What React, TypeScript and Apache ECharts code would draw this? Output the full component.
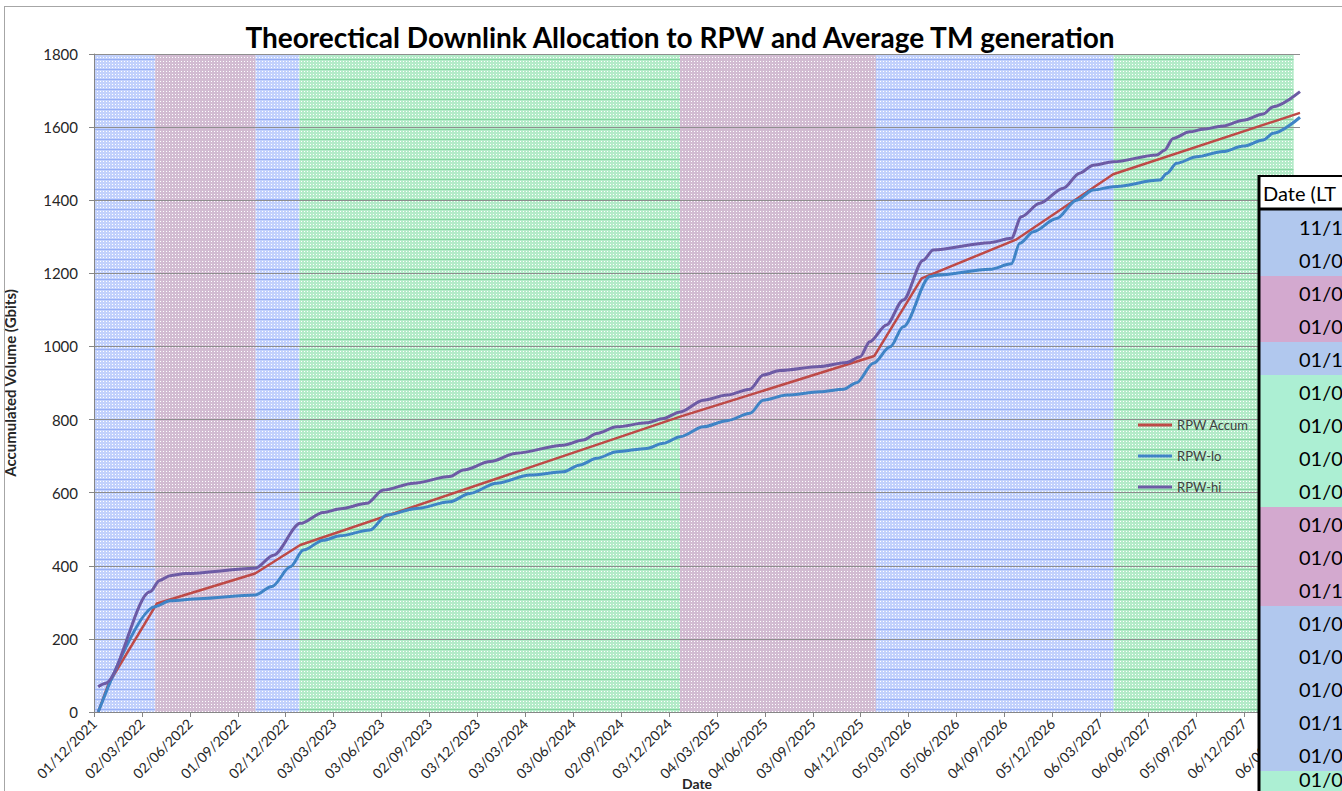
import React, { useEffect, useRef } from 'react';
import * as echarts from 'echarts';

// ---------- data ----------
const xTickLabels = [
  '01/12/2021', '02/03/2022', '02/06/2022', '01/09/2022', '02/12/2022', '03/03/2023',
  '03/06/2023', '02/09/2023', '03/12/2023', '03/03/2024', '03/06/2024', '02/09/2024',
  '03/12/2024', '04/03/2025', '04/06/2025', '03/09/2025', '04/12/2025', '05/03/2026',
  '05/06/2026', '04/09/2026', '05/12/2026', '06/03/2027', '06/06/2027', '05/09/2027',
  '06/12/2027', '06/03/2028',
];
const TICK_STEP = 91.3125; // days between labelled ticks
const X_MAX = 2298; // days after 01/12/2021 at the right edge of the plot

// days after 01/12/2021
const accumDays = [8, 28, 120, 307, 393, 1117, 1487, 1577, 1758, 1942, 2298];
const accumValues = [0, 78, 297, 379, 457, 808, 974, 1186, 1293, 1471, 1639];

const loDays = [8, 116, 145, 200, 307, 339, 374, 399, 437, 469, 526, 558, 615, 678, 716, 767, 831, 894, 926, 958, 996, 1053, 1085, 1117, 1161, 1206, 1250, 1275, 1320, 1383, 1428, 1453, 1485, 1517, 1542, 1593, 1605, 1707, 1748, 1764, 1790, 1834, 1872, 1904, 1942, 2031, 2044, 2063, 2101, 2151, 2190, 2228, 2247, 2298];
const loValues = [0, 288, 304, 310, 320, 343, 397, 443, 470, 482, 498, 539, 557, 575, 598, 626, 648, 657, 676, 694, 712, 721, 735, 753, 780, 797, 817, 853, 867, 876, 883, 901, 954, 999, 1054, 1191, 1195, 1211, 1226, 1282, 1314, 1350, 1400, 1428, 1437, 1455, 1473, 1501, 1519, 1533, 1548, 1565, 1583, 1627];

const hiDays = [8, 21, 107, 125, 145, 175, 307, 342, 393, 437, 470, 520, 551, 609, 678, 704, 755, 805, 894, 932, 958, 996, 1053, 1085, 1117, 1161, 1206, 1250, 1275, 1307, 1383, 1434, 1460, 1478, 1510, 1542, 1580, 1599, 1707, 1748, 1767, 1802, 1847, 1878, 1904, 1942, 2025, 2040, 2056, 2088, 2113, 2151, 2190, 2228, 2247, 2298];
const hiValues = [69, 78, 329, 360, 373, 379, 393, 429, 516, 546, 556, 571, 607, 626, 644, 662, 685, 708, 730, 744, 762, 780, 791, 803, 821, 853, 867, 883, 922, 934, 945, 956, 972, 1013, 1059, 1127, 1236, 1264, 1284, 1296, 1355, 1392, 1433, 1474, 1496, 1505, 1524, 1537, 1569, 1587, 1594, 1603, 1619, 1636, 1656, 1697];

// mission phase bands (days)
const bandStarts = [0, 116.6, 308, 391.4, 1116.6, 1490, 1943];
const bandEnds = [116.6, 308, 391.4, 1116.6, 1490, 1943, 2286];
const bandPhases = ['blue', 'purple', 'blue', 'green', 'purple', 'blue', 'green'];

// overlapping table (cut off by the picture's edge)
const tableHeader = 'Date (LT';
const tableRows = ['11/1', '01/0', '01/0', '01/0', '01/1', '01/0', '01/0', '01/0', '01/0', '01/0', '01/0', '01/1', '01/0', '01/0', '01/0', '01/1', '01/0', '01/0'];
const tableRowPhases = ['blue', 'blue', 'purple', 'purple', 'blue', 'green', 'green', 'green', 'green', 'purple', 'purple', 'purple', 'blue', 'blue', 'blue', 'blue', 'blue', 'green'];

const seriesNames = ['RPW Accum', 'RPW-lo', 'RPW-hi'];
const seriesColors = ['#be4a47', '#3f84c6', '#6d5ba5'];

// ---------- styling helpers ----------
const FONT = 'Lato, "Open Sans", sans-serif';
const tableColors: Record<string, string> = { blue: '#b1c8ee', purple: '#d3a9cf', green: '#acefd3' };

function makePattern(base: string, dark: string | null) {
  const c = document.createElement('canvas');
  c.width = 3;
  c.height = 10;
  const ctx = c.getContext('2d')!;
  ctx.fillStyle = base;
  ctx.fillRect(0, 0, 3, 10);
  ctx.fillStyle = '#ffffff';
  ctx.fillRect(1, 1, 1, 1);
  ctx.fillRect(1, 4, 1, 1);
  ctx.fillRect(1, 7, 1, 1);
  if (dark) {
    ctx.fillStyle = dark;
    ctx.fillRect(0, 9, 3, 1);
  }
  return { image: c, repeat: 'repeat' };
}

function zip(xs: number[], ys: number[]) {
  return xs.map((x, i) => [x, ys[i]]);
}

export default function App() {
  const ref = useRef<HTMLDivElement>(null);

  useEffect(() => {
    if (!ref.current) return;
    const chart = echarts.init(ref.current, undefined, { renderer: 'svg' });

    const patterns: Record<string, any> = {
      blue: makePattern('rgb(194,209,252)', 'rgb(152,176,246)'),
      purple: makePattern('rgb(210,188,210)', null),
      green: makePattern('rgb(180,235,201)', 'rgb(134,214,162)'),
    };

    const rowH = 33;
    const tableLeft = 1258;
    const tableTop = 175;
    const headerBottom = 209;
    const tableGraphics: any[] = [];
    tableGraphics.push({
      type: 'rect', z: 100,
      shape: { x: tableLeft, y: tableTop, width: 1342 - tableLeft, height: headerBottom - tableTop },
      style: { fill: '#ffffff' },
    });
    tableRows.forEach((t, i) => {
      const y = headerBottom + 1 + i * rowH;
      const last = i === tableRows.length - 1;
      tableGraphics.push({
        type: 'rect', z: 100,
        shape: { x: tableLeft, y, width: 1342 - tableLeft, height: rowH },
        style: { fill: tableColors[tableRowPhases[i]] },
      });
      tableGraphics.push({
        type: 'text', z: 101, x: 1299, y: last ? 779 : y + rowH / 2,
        style: { text: t, fill: '#000000', font: `20px ${FONT}`, textVerticalAlign: 'middle', textAlign: 'left' },
      });
    });
    tableGraphics.push({
      type: 'text', z: 101, x: 1263, y: 193,
      style: { text: tableHeader, fill: '#000000', font: `20px ${FONT}`, textVerticalAlign: 'middle', textAlign: 'left' },
    });
    tableGraphics.push({ type: 'line', z: 102, shape: { x1: tableLeft + 1, y1: tableTop, x2: tableLeft + 1, y2: 791 }, style: { stroke: '#000', lineWidth: 3 } });
    tableGraphics.push({ type: 'line', z: 102, shape: { x1: tableLeft, y1: tableTop + 1, x2: 1342, y2: tableTop + 1 }, style: { stroke: '#000', lineWidth: 2 } });
    tableGraphics.push({ type: 'line', z: 102, shape: { x1: tableLeft, y1: headerBottom, x2: 1342, y2: headerBottom }, style: { stroke: '#000', lineWidth: 3 } });

    const option: any = {
      animation: false,
      backgroundColor: '#ffffff',
      textStyle: { fontFamily: FONT },
      grid: { left: 94, right: 42, top: 54, bottom: 79, containLabel: false, outerBoundsMode: 'none' },
      legend: {
        data: seriesNames,
        orient: 'vertical',
        left: 1133,
        top: 413,
        icon: 'rect',
        itemWidth: 34,
        itemHeight: 3,
        itemGap: 17,
        textStyle: { color: '#404040', fontSize: 13, fontFamily: FONT, lineHeight: 14 },
        selectedMode: false,
      },
      xAxis: {
        type: 'value',
        min: 0,
        max: X_MAX,
        interval: TICK_STEP,
        z: 1.5,
        name: 'Date',
        nameLocation: 'middle',
        nameGap: 64,
        nameMoveOverlap: false,
        nameTextStyle: { fontWeight: 'bold', fontSize: 14, color: '#262626', fontFamily: FONT },
        axisLine: { lineStyle: { color: '#868686', width: 1 } },
        axisTick: { show: true, length: 5, lineStyle: { color: '#868686' } },
        splitLine: { show: false },
        axisLabel: {
          rotate: 45,
          margin: 9,
          fontSize: 14,
          color: '#262626',
          fontFamily: FONT,
          showMaxLabel: true,
          formatter: (v: number) => {
            const i = Math.round(v / TICK_STEP);
            if (Math.abs(v - i * TICK_STEP) > 0.01) return '';
            return xTickLabels[i] ?? '';
          },
        },
      },
      yAxis: {
        type: 'value',
        min: 0,
        max: 1800,
        interval: 200,
        z: 1.5,
        name: 'Accumulated Volume (Gbits)',
        nameLocation: 'middle',
        nameGap: 77,
        nameMoveOverlap: false,
        nameTextStyle: { fontWeight: 'bold', fontSize: 15, color: '#262626', fontFamily: FONT },
        axisLine: { show: true, lineStyle: { color: '#868686', width: 1 } },
        axisTick: { show: true, length: 5, lineStyle: { color: '#868686' } },
        axisLabel: { margin: 16, fontSize: 15, color: '#262626', fontFamily: FONT, formatter: (v: number) => String(v) },
        splitLine: { show: true, lineStyle: { color: '#8e8e8e', width: 1 } },
      },
      series: [
        {
          type: 'line',
          name: '__bands',
          data: [],
          z: 1,
          silent: true,
          markArea: {
            silent: true,
            data: bandStarts.map((s, i) => [
              { xAxis: s, itemStyle: { color: patterns[bandPhases[i]], opacity: 1 } },
              { xAxis: bandEnds[i] },
            ]),
          },
        },
        {
          type: 'line',
          name: seriesNames[0],
          data: zip(accumDays, accumValues),
          showSymbol: false,
          z: 3,
          lineStyle: { color: seriesColors[0], width: 2.5 },
          itemStyle: { color: seriesColors[0] },
        },
        {
          type: 'line',
          name: seriesNames[1],
          data: zip(loDays, loValues),
          showSymbol: false,
          smooth: 0.3,
          smoothMonotone: 'x',
          z: 3,
          lineStyle: { color: seriesColors[1], width: 3 },
          itemStyle: { color: seriesColors[1] },
        },
        {
          type: 'line',
          name: seriesNames[2],
          data: zip(hiDays, hiValues),
          showSymbol: false,
          smooth: 0.3,
          smoothMonotone: 'x',
          z: 3,
          lineStyle: { color: seriesColors[2], width: 3 },
          itemStyle: { color: seriesColors[2] },
        },
      ],
      graphic: [
        { type: 'line', z: 50, shape: { x1: 4.5, y1: 6, x2: 4.5, y2: 791 }, style: { stroke: '#a6a6a6', lineWidth: 1 } },
        { type: 'line', z: 50, shape: { x1: 4, y1: 6.5, x2: 1342, y2: 6.5 }, style: { stroke: '#a6a6a6', lineWidth: 1 } },
        {
          type: 'text', z: 50, x: 680, y: 37,
          style: {
            text: 'Theorectical Downlink Allocation to RPW and Average TM generation',
            fill: '#000000',
            font: `bold 28px ${FONT}`,
            textAlign: 'center',
            textVerticalAlign: 'middle',
          },
        },
        ...tableGraphics,
      ],
    };

    chart.setOption(option);
    return () => chart.dispose();
  }, []);

  return (
    <div
      ref={ref}
      style={{ position: 'fixed', left: 0, top: 0, width: 1342, height: 791, background: '#ffffff' }}
    />
  );
}
